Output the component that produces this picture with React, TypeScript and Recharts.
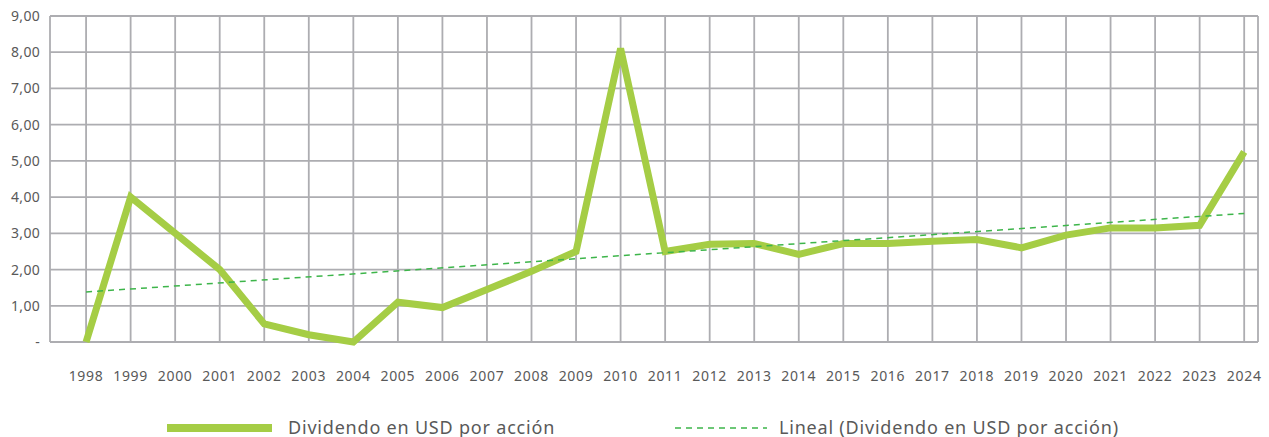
import React from 'react';
import { LineChart, Line, XAxis, YAxis, CartesianGrid } from 'recharts';

const years = [1998, 1999, 2000, 2001, 2002, 2003, 2004, 2005, 2006, 2007, 2008, 2009, 2010, 2011, 2012, 2013, 2014, 2015, 2016, 2017, 2018, 2019, 2020, 2021, 2022, 2023, 2024];
const dividend = [0, 4.0, 3.0, 2.0, 0.5, 0.2, 0.0, 1.1, 0.95, 1.45, 1.95, 2.5, 8.1, 2.5, 2.7, 2.72, 2.42, 2.72, 2.72, 2.78, 2.83, 2.6, 2.95, 3.15, 3.15, 3.22, 5.25];
const trendYears = [1998, 2024];
const trendValues = [1.38, 3.55];
const yTicks = [0, 1, 2, 3, 4, 5, 6, 7, 8, 9];
const seriesName = 'Dividendo en USD por acción';
const trendName = 'Lineal (Dividendo en USD por acción)';

const data = years.map((y, i) => {
  const ti = trendYears.indexOf(y);
  return { year: y, dividend: dividend[i], trend: ti >= 0 ? trendValues[ti] : null };
});

const FONT = '"Noto Sans", "Open Sans", sans-serif';
const TEXT = '#595959';
const GRID = '#ADADB1';
const LINE = '#A5CD45';
const TREND = '#3DB54A';

const fmt = (v: number) => (v === 0 ? '-' : v.toFixed(2).replace('.', ','));

const legendStyle: React.CSSProperties = {
  position: 'absolute',
  top: 418,
  height: 19,
  lineHeight: '19px',
  display: 'flex',
  alignItems: 'center',
  color: TEXT,
  fontSize: 18,
  letterSpacing: 0.8,
  fontFamily: FONT,
  whiteSpace: 'nowrap',
};

export default function App() {
  return (
    <div style={{ position: 'absolute', left: 0, top: 0, width: 1269, height: 437, background: '#fff', fontFamily: FONT }}>
      <LineChart width={1269} height={417} data={data} margin={{ top: 16, right: 11, left: 0, bottom: 0 }}>
        <CartesianGrid stroke={GRID} strokeWidth={1.8} />
        <XAxis
          dataKey="year"
          type="number"
          domain={[1997.19, 2024.31]}
          ticks={years}
          interval={0}
          axisLine={false}
          tickLine={false}
          tickSize={0}
          tickMargin={29}
          height={75}
          tick={{ fill: TEXT, fontSize: 14, fontFamily: FONT, letterSpacing: 0.7 }}
        />
        <YAxis
          domain={[0, 9]}
          ticks={yTicks}
          interval={0}
          width={50}
          axisLine={false}
          tickLine={false}
          tickSize={0}
          tickMargin={10}
          tickFormatter={fmt}
          tick={{ fill: TEXT, fontSize: 14, fontFamily: FONT, letterSpacing: 0.3 }}
        />
        <Line
          dataKey="dividend"
          name={seriesName}
          stroke={LINE}
          strokeWidth={7}
          dot={false}
          activeDot={false}
          isAnimationActive={false}
        />
        <Line
          dataKey="trend"
          name={trendName}
          stroke={TREND}
          strokeWidth={1.5}
          strokeDasharray="6 5"
          connectNulls
          dot={false}
          activeDot={false}
          isAnimationActive={false}
        />
      </LineChart>
      <div style={{ ...legendStyle, left: 167 }}>
        <svg width={105} height={10} style={{ marginRight: 16 }}>
          <line x1={0} y1={5} x2={105} y2={5} stroke={LINE} strokeWidth={8} />
        </svg>
        <span>{seriesName}</span>
      </div>
      <div style={{ ...legendStyle, left: 675 }}>
        <svg width={92} height={10} style={{ marginRight: 12 }}>
          <line x1={0} y1={5} x2={92} y2={5} stroke={TREND} strokeWidth={1.5} strokeDasharray="6 5" />
        </svg>
        <span>{trendName}</span>
      </div>
    </div>
  );
}
